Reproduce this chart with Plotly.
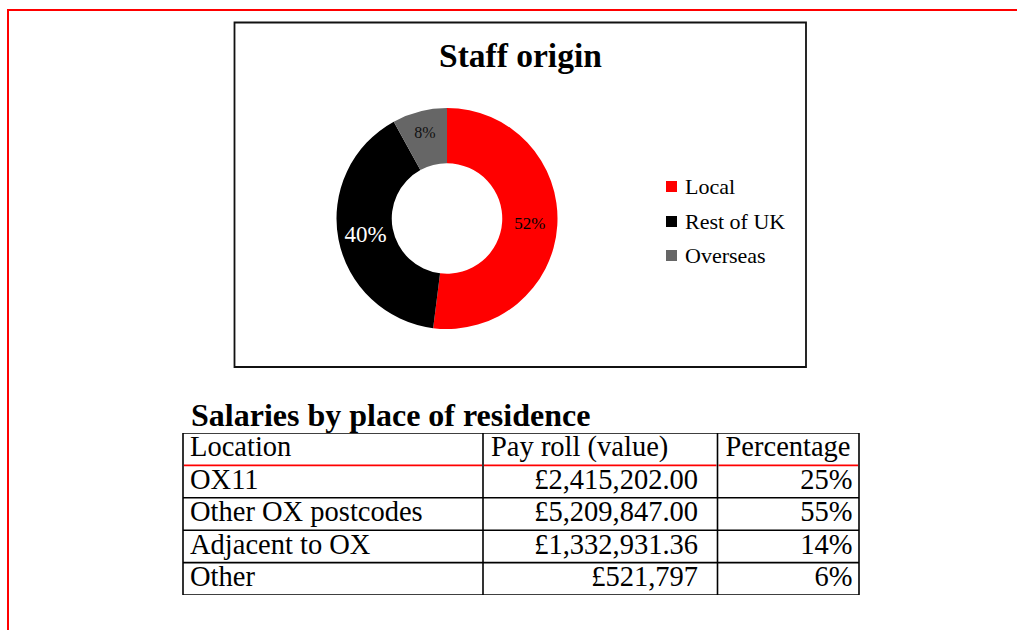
import plotly.graph_objects as go

# ---- Staff origin (donut) ----
origin_labels = ["Local", "Rest of UK", "Overseas"]
origin_values = [52, 40, 8]
origin_colors = ["#ff0000", "#000000", "#666666"]
origin_text_colors = ["#000000", "#ffffff", "#111111"]
origin_text_sizes = [17, 23, 16]

# ---- Salaries by place of residence (table) ----
table_headers = ["Location", "Pay roll (value)", "Percentage"]
locations = ["OX11", "Other OX postcodes", "Adjacent to OX", "Other"]
payroll = ["£2,415,202.00", "£5,209,847.00", "£1,332,931.36", "£521,797"]
percentages = ["25%", "55%", "14%", "6%"]

W, H = 1017, 630
SERIF = "Liberation Serif, Times New Roman, serif"


def px(x):
    return x / W


def py(y):
    return 1 - y / H


fig = go.Figure()

# donut chart
fig.add_trace(go.Pie(
    labels=origin_labels,
    values=origin_values,
    marker=dict(colors=origin_colors, line=dict(width=0)),
    hole=0.5,
    sort=False,
    direction="clockwise",
    rotation=0,
    textinfo="percent",
    textposition="inside",
    insidetextorientation="horizontal",
    textfont=dict(family=SERIF, size=origin_text_sizes, color=origin_text_colors),
    domain=dict(x=[px(336.5), px(557.5)], y=[py(329), py(108)]),
    showlegend=False,
    hoverinfo="label+percent",
))

# table text, laid out on a pixel-wide x axis and a row-index y axis
n_rows = len(locations)
col_edges = [183, 483, 717.5, 859]
header_x = [col_edges[0] + 7, col_edges[1] + 8, col_edges[2] + 8]
body_x = [col_edges[0] + 7, col_edges[2] - 19.5, col_edges[3] - 6.5]
body_pos = ["middle right", "middle left", "middle left"]
body_cols = [locations, payroll, percentages]
cell_font = dict(family=SERIF, size=28.5, color="#000000")

fig.add_trace(go.Scatter(
    x=header_x, y=[0] * len(table_headers), text=table_headers,
    mode="text", textposition="middle right", textfont=cell_font,
    showlegend=False, hoverinfo="skip",
))
for cx, pos, col in zip(body_x, body_pos, body_cols):
    fig.add_trace(go.Scatter(
        x=[cx] * n_rows, y=list(range(1, n_rows + 1)), text=col,
        mode="text", textposition=pos, textfont=cell_font,
        showlegend=False, hoverinfo="skip",
    ))

shapes = []
# table grid (the rule under the header row is red)
for r in range(n_rows + 2):
    y = r - 0.5
    if r == 1:
        continue
    shapes.append(dict(type="line", xref="x", yref="y",
                       x0=col_edges[0], x1=col_edges[-1], y0=y, y1=y,
                       line=dict(color="#000000", width=1.6), layer="above"))
for a, b in zip(col_edges[:-1], col_edges[1:]):
    shapes.append(dict(type="line", xref="x", yref="y",
                       x0=a + 1, x1=b - 1, y0=0.5, y1=0.5,
                       line=dict(color="#ff0000", width=1.6), layer="above"))
for e in col_edges:
    shapes.append(dict(type="line", xref="x", yref="y",
                       x0=e, x1=e, y0=-0.5, y1=n_rows + 0.5,
                       line=dict(color="#000000", width=1.6), layer="above"))

# chart frame
shapes.append(dict(type="rect", xref="paper", yref="paper",
                   x0=px(234.5), x1=px(806), y0=py(367), y1=py(22.5),
                   line=dict(color="#111111", width=1.8)))
# page border
shapes.append(dict(type="line", xref="paper", yref="paper",
                   x0=px(7), x1=1.01, y0=py(10), y1=py(10),
                   line=dict(color="#ff0000", width=2)))
shapes.append(dict(type="line", xref="paper", yref="paper",
                   x0=px(8), x1=px(8), y0=py(9), y1=-0.01,
                   line=dict(color="#ff0000", width=2)))

annotations = [
    dict(text="<b>Staff origin</b>", x=px(520), y=py(55), xref="paper", yref="paper",
         xanchor="center", yanchor="middle", showarrow=False,
         font=dict(family=SERIF, size=33.5, color="#000000")),
    dict(text="<b>Salaries by place of residence</b>", x=px(189), y=py(415),
         xref="paper", yref="paper", xanchor="left", yanchor="middle", showarrow=False,
         font=dict(family=SERIF, size=32, color="#000000")),
]

# legend for the donut
legend_y = [186.5, 221.5, 255.5]
for lab, col, ly in zip(origin_labels, origin_colors, legend_y):
    shapes.append(dict(type="rect", xref="paper", yref="paper",
                       x0=px(666), x1=px(677), y0=py(ly + 5.5), y1=py(ly - 5.5),
                       fillcolor=col, line=dict(width=0)))
    annotations.append(dict(text=lab, x=px(683), y=py(ly), xref="paper", yref="paper",
                            xanchor="left", yanchor="middle", showarrow=False,
                            font=dict(family=SERIF, size=22, color="#000000")))

fig.update_layout(
    width=W, height=H,
    margin=dict(l=0, r=0, t=0, b=0),
    paper_bgcolor="#ffffff", plot_bgcolor="rgba(0,0,0,0)",
    xaxis=dict(range=[0, W], domain=[0, 1], visible=False, fixedrange=True),
    yaxis=dict(range=[n_rows + 0.5, -0.5], domain=[py(595), py(433)],
               visible=False, fixedrange=True),
    shapes=shapes,
    annotations=annotations,
    showlegend=False,
)

fig.write_html("out.html", config={"displayModeBar": False})
